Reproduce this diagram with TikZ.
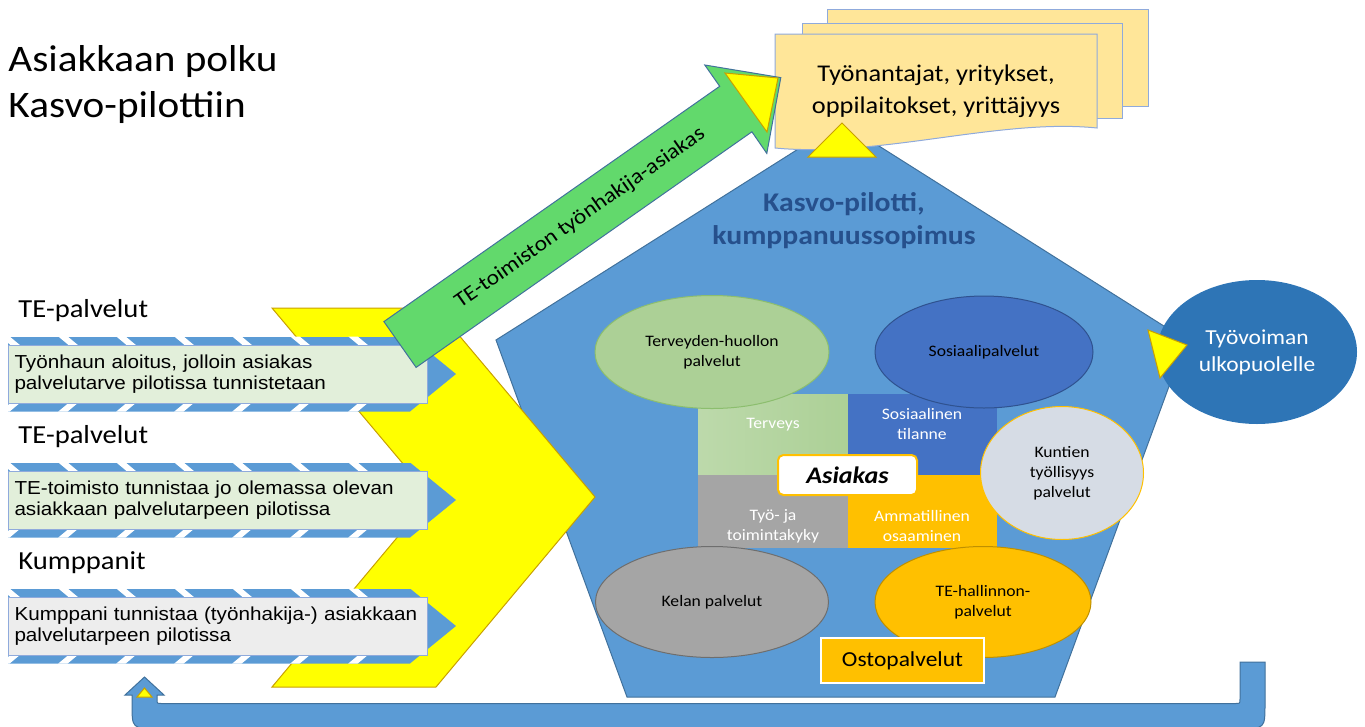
\documentclass[tikz,border=0pt]{standalone}
\usepackage{fontspec}
\setmainfont{Carlito}[FakeStretch=1.1]
\newfontfamily\arialfont{Liberation Sans}[FakeStretch=1.1]
\usetikzlibrary{shapes.geometric}

\definecolor{kasvoblue}{RGB}{91,155,213}
\definecolor{kasvoline}{RGB}{65,113,156}
\definecolor{chevronyellow}{RGB}{255,255,0}
\definecolor{chevronline}{RGB}{201,160,0}
\definecolor{arrowgreen}{RGB}{98,217,108}
\definecolor{beige}{RGB}{255,230,153}
\definecolor{beigeline}{RGB}{143,170,220}
\definecolor{rowgreen}{RGB}{226,239,218}
\definecolor{rowgray}{RGB}{237,237,237}
\definecolor{healthgreen}{RGB}{172,208,150}
\definecolor{healthline}{RGB}{140,190,110}
\definecolor{socialblue}{RGB}{68,114,196}
\definecolor{socialline}{RGB}{47,82,143}
\definecolor{workgray}{RGB}{165,165,165}
\definecolor{workline}{RGB}{110,110,110}
\definecolor{skillgold}{RGB}{255,192,0}
\definecolor{skillline}{RGB}{191,144,0}
\definecolor{townpale}{RGB}{214,220,229}
\definecolor{outsideblue}{RGB}{46,117,182}
\definecolor{titleblue}{RGB}{38,80,140}

\tikzset{every picture/.style={line width=0.75pt}}
\tikzset{
  ellipsenode/.style={ellipse, inner sep=0pt, align=center, line width=0.75, font=\fontsize{12}{15}\selectfont},
  celltext/.style={align=center, text=white, font=\fontsize{12}{15}\selectfont},
  rowbox/.style={draw=beigeline, anchor=west, minimum width=314.25pt, minimum height=43.5pt, inner xsep=4.5pt, text width=305.25pt, align=left, font=\arialfont\fontsize{14.1}{15.75}\selectfont},
  rowlabel/.style={anchor=west, inner sep=0pt, font=\fontsize{19.5}{23}\selectfont},
  tipmark/.style={draw=chevronline, fill=chevronyellow, line width=0.75},
}

\begin{document}
\begin{tikzpicture}[x=0.75pt,y=0.75pt,yscale=-1,xscale=1]
	\useasboundingbox (0,0) rectangle (1365,726);

	% Text Node
	\node [anchor=west, align=left, inner sep=0pt, font=\fontsize{28.1}{34.5}\selectfont] (title) at (8,85) {Asiakkaan polku\\Kasvo-pilottiin};

	%Shape: Pentagon
	\draw [draw=kasvoline, fill=kasvoblue] (841,122) -- (1186,340) -- (1055,697) -- (627,697) -- (496,340) -- cycle;

	%Shape: Rectangle
	\shade [left color=healthgreen!80!white, right color=healthgreen] (698,394) rectangle (848,475);
	\fill [socialblue] (848,394) rectangle (997,475);
	\fill [workgray] (698,475) rectangle (848,548);
	\fill [skillgold] (848,475) rectangle (997,548);
	% Text Node
	\node [celltext] (terveys) at (773,425) {Terveys};
	\node [celltext] (tilanne) at (922,424) {Sosiaalinen\\tilanne};
	\node [celltext] (tyokyky) at (773,526) {Työ- ja\\toimintakyky};
	\node [celltext] (osaaminen) at (922,526) {Ammatillinen\\osaaminen};

	%Shape: Ellipse
	\node [ellipsenode, draw=healthline, fill=healthgreen, minimum width=175.5pt, minimum height=84.75pt] (terveydenhuolto) at (712,352) {Terveyden-huollon\\palvelut};
	\node [ellipsenode, draw=socialline, fill=socialblue, minimum width=163.5pt, minimum height=84pt] (sosiaali) at (984,352) {Sosiaalipalvelut};
	\node [ellipsenode, draw=workline, fill=workgray, minimum width=174.75pt, minimum height=83.25pt] (kela) at (712,602) {Kelan palvelut};
	\node [ellipsenode, draw=skillline, fill=skillgold, minimum width=162pt, minimum height=83.25pt] (tehallinto) at (983,602) {TE-hallinnon-\\palvelut};
	\node [ellipsenode, draw=skillgold, fill=townpale, minimum width=122.25pt, minimum height=99.75pt] (kunnat) at (1062,473) {Kuntien\\työllisyys\\palvelut};

	% Text Node
	\node [draw=skillgold, fill=white, rounded corners=4pt, line width=1.5, minimum width=104.25pt, minimum height=30pt, font=\bfseries\itshape\fontsize{17.8}{20}\selectfont] (asiakas) at (847.5,475) {Asiakas};
	\node [draw=white, fill=skillgold, line width=1.5, minimum width=122.25pt, minimum height=33.75pt, font=\fontsize{16}{19}\selectfont] (osto) at (902.5,660.5) {Ostopalvelut};
	\node [text=titleblue, align=center, font=\bfseries\fontsize{20.25}{24.75}\selectfont] (kasvo) at (844,221) {Kasvo-pilotti,\\kumppanuussopimus};

	%Shape: Ellipse
	\node [ellipsenode, fill=outsideblue, text=white, minimum width=150pt, minimum height=108pt, font=\fontsize{16}{20.25}\selectfont] (ulkopuolelle) at (1257,352) {Työvoiman\\ulkopuolelle};
	%Shape: Triangle
	\draw [tipmark] (1148,330) -- (1187,345) -- (1160,378) -- cycle;

	%Shape: Chevron
	\draw [draw=chevronline, fill=chevronyellow] (272,308) -- (436,308) -- (595,497) -- (436,687) -- (272,687) -- (431,497) -- cycle;

	%Striped arrows with boxes
	\foreach \cy/\lab/\tint/\txt in {374/TE-palvelut/rowgreen/{Työnhaun aloitus, jolloin asiakas\\palvelutarve pilotissa tunnistetaan},
	                                  500/TE-palvelut/rowgreen/{TE-toimisto tunnistaa jo olemassa olevan\\asiakkaan palvelutarpeen pilotissa},
	                                  626/Kumppanit/rowgray/{Kumppani tunnistaa (työnhakija-) asiakkaan\\palvelutarpeen pilotissa}}
	{
		\begin{scope}
			\clip (8,\cy-37.5) -- (410,\cy-37.5) -- (456,\cy) -- (410,\cy+37.5) -- (8,\cy+37.5) -- cycle;
			\fill [kasvoblue] (8,\cy-37.5) rectangle (460,\cy+37.5);
			\foreach \sx in {2,60,...,350}
				\draw [white, line width=4.5] (\sx,\cy-40) -- (\sx+48,\cy) -- (\sx,\cy+40);
		\end{scope}
		\node [rowbox, fill=\tint] (box\cy) at (8,\cy) {\txt};
		\node [rowlabel] (label\cy) at (18,\cy-63) {\lab};
	}

	%Shape: Stacked boxes
	\draw [draw=beigeline, fill=beige] (827,9) rectangle (1148,106);
	\draw [draw=beigeline, fill=beige] (802,23) rectangle (1122,118);
	\draw [draw=beigeline, fill=beige] (775,34) -- (1097,34) -- (1097,128) .. controls (1000,118) and (880,158) .. (775,148) -- cycle;
	% Text Node
	\node [align=center, font=\fontsize{18}{24}\selectfont] (tyonantajat) at (936,91) {Työnantajat, yritykset,\\oppilaitokset, yrittäjyys};
	%Shape: Triangle
	\draw [tipmark] (842,123) -- (876,157) -- (808,157) -- cycle;

	%Shape: Green arrow
	\draw [draw=kasvoline, fill=arrowgreen] (383.9,321.6) -- (719.7,86.3) -- (704.8,65) -- (780.8,77.6) -- (766.8,153.4) -- (751.9,131.8) -- (416.1,367.4) -- cycle;
	\draw [tipmark] (725,73) -- (778,78) -- (767,132) -- cycle;
	% Text Node
	\node [rotate=35, font=\fontsize{16}{19}\selectfont] (tyonhakija) at (580,218) {TE-toimiston työnhakija-asiakas};

	%Shape: Return arrow
	\draw [draw=kasvoline, fill=kasvoblue] (1240,662) -- (1265,662) -- (1265,703.5) .. controls (1265,728.5) .. (1240,728.5) -- (157,728.5) .. controls (132,728.5) .. (132,703.5) -- (132,695) -- (125,695) -- (144.5,677) -- (164,695) -- (157,695) -- (157,699) .. controls (157,703.5) .. (161.5,703.5) -- (1235.5,703.5) .. controls (1240,703.5) .. (1240,699) -- cycle;
	\draw [tipmark] (137,697) -- (144.5,688) -- (152,697) -- cycle;

\end{tikzpicture}
\end{document}
